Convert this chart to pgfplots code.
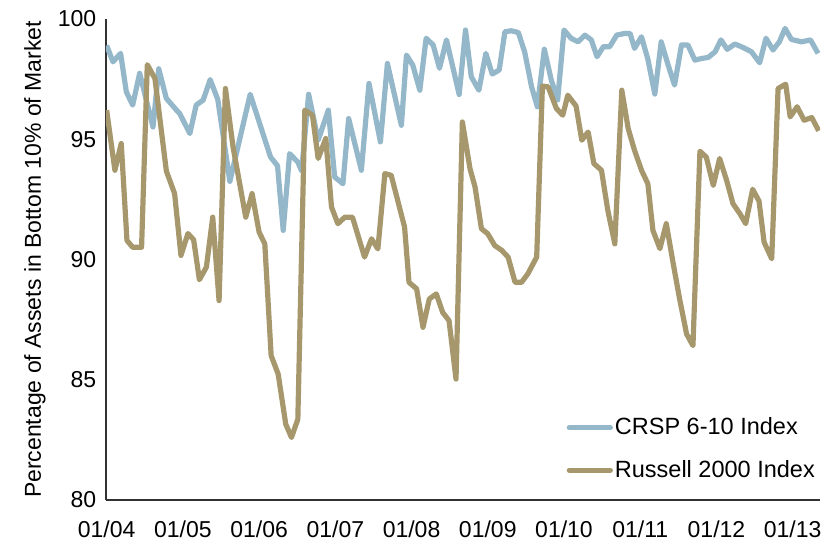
\documentclass[border=0pt]{standalone}
\usepackage{pgfplots}
\pgfplotsset{compat=1.18}
\usepackage{fontspec}
\setmainfont{Liberation Sans}
\definecolor{crsp}{RGB}{148,183,202}
\definecolor{russ}{RGB}{166,151,108}
\definecolor{axgray}{RGB}{50,50,50}
\begin{document}
\fontsize{23}{27}\selectfont
\begin{tikzpicture}
\path[use as bounding box] (-106pt,-43pt) rectangle (733pt,500pt);
\begin{axis}[
  at={(0,0)}, anchor=south west,
  scale only axis, width=714pt, height=481pt,
  xmin=-0.1, xmax=112.3, ymin=80, ymax=100,
  axis x line*=bottom, axis y line*=left,
  axis line style={axgray, line width=1.2pt},
  major tick length=0pt,
  xtick={0,12,24,36,48,60,72,84,96,108},
  xticklabels={01/04,01/05,01/06,01/07,01/08,01/09,01/10,01/11,01/12,01/13},
  ytick={80,85,90,95,100},
  /pgf/number format/assume math mode=true,
  tick label style={font=\fontsize{23}{27}\selectfont, text=black},
  xticklabel style={yshift=-13pt},
  yticklabel style={xshift=-2pt},
  ylabel={Percentage of Assets in Bottom 10\% of Market},
  ylabel style={at={(axis description cs:-0.0994,0.5)}, anchor=center, font=\fontsize{23}{27}\selectfont},
  legend style={at={(axis description cs:0.645,0.176)}, anchor=north west, draw=none, fill=none,
    font=\fontsize{23.5}{27}\selectfont, row sep=18pt, inner sep=0pt},
  legend cell align=left,
  legend image code/.code={\draw[#1, line cap=round] (0pt,0pt) -- (41pt,0pt);},
  every axis plot/.append style={line width=5.2pt, line join=round},
]
\addplot[crsp] coordinates {
(0,98.9)(1.0,98.22)(2.2,98.57)(3.1,96.97)(4.1,96.42)(5.2,97.74)(7.3,95.51)(8.2,97.93)(9.4,96.70)(11.0,96.21)(11.5,96.07)(13.1,95.24)(14.1,96.42)(15.2,96.63)(16.3,97.48)(17.5,96.65)(19.4,93.25)(22.6,96.87)(25.8,94.26)(26.9,93.9)(27.8,91.21)(28.8,94.4)(30.1,94.05)(30.7,93.68)(31.8,96.87)(33.3,94.96)(34.9,96.21)(35.9,93.43)(37.2,93.15)(38.1,95.86)(40.1,93.71)(41.3,97.32)(43.1,94.89)(44.2,98.15)(46.4,95.58)(47.2,98.5)(48.2,98.08)(49.3,97.04)(50.3,99.2)(51.4,98.92)(52.4,97.95)(53.5,99.13)(55.5,96.86)(56.5,99.54)(57.4,97.6)(58.6,97.04)(59.7,98.57)(60.7,97.71)(61.8,97.88)(62.7,99.47)(63.7,99.51)(64.8,99.44)(65.8,98.64)(66.9,97.18)(67.8,96.35)(68.9,98.74)(70.0,97.46)(71.0,96.63)(72.0,99.54)(73.1,99.2)(74.2,99.05)(75.3,99.33)(76.3,99.13)(77.2,98.43)(78.2,98.85)(79.2,98.85)(80.3,99.33)(81.6,99.40)(82.4,99.4)(83.1,98.78)(84.2,99.26)(85.2,98.33)(86.3,96.88)(87.3,99.05)(88.4,98.08)(89.4,97.25)(90.5,98.92)(91.5,98.92)(92.6,98.29)(93.7,98.36)(94.7,98.40)(95.8,98.64)(96.7,99.13)(97.7,98.74)(98.9,98.96)(99.9,98.85)(101.5,98.64)(102.8,98.18)(103.8,99.2)(104.9,98.71)(105.9,99.05)(106.8,99.61)(107.8,99.15)(109.4,99.05)(110.8,99.13)(112.0,98.57)
};
\addlegendentry{CRSP 6-10 Index}
\addplot[russ] coordinates {
(0,96.21)(1.3,93.71)(2.3,94.82)(3.2,90.79)(4.1,90.51)(5.5,90.51)(6.4,98.1)(7.6,97.53)(9.4,93.68)(10.7,92.74)(11.7,90.17)(12.8,91.08)(13.7,90.82)(14.6,89.16)(15.7,89.68)(16.7,91.76)(17.7,88.29)(18.7,97.11)(19.9,94.68)(21.9,91.76)(22.9,92.74)(24.0,91.14)(24.9,90.65)(25.9,86.0)(27.0,85.24)(28.2,83.15)(29.1,82.60)(30.1,83.36)(31.2,96.21)(32.4,96.0)(33.3,94.2)(34.5,95.03)(35.4,92.18)(36.4,91.49)(37.5,91.76)(38.7,91.76)(40.6,90.10)(41.7,90.86)(42.7,90.44)(43.8,93.57)(44.8,93.5)(46.9,91.35)(47.6,89.05)(48.8,88.78)(49.8,87.18)(50.8,88.36)(51.9,88.57)(52.9,87.80)(53.9,87.46)(55.0,85.03)(56.0,95.72)(57.2,93.78)(58.0,93.01)(59.0,91.28)(60.0,91.07)(61.1,90.58)(62.2,90.38)(63.2,90.10)(64.3,89.05)(65.3,89.05)(66.3,89.4)(67.7,90.10)(68.6,97.21)(69.5,97.18)(70.8,96.28)(71.8,96.0)(72.6,96.83)(73.9,96.38)(74.8,94.96)(75.8,95.3)(76.7,93.99)(77.9,93.71)(78.9,92.04)(80.0,90.65)(81.1,97.04)(82.1,95.45)(83.1,94.54)(84.2,93.71)(85.2,93.15)(86.0,91.21)(87.1,90.45)(88.1,91.49)(89.2,89.82)(90.2,88.36)(91.3,86.9)(92.3,86.42)(93.4,94.5)(94.4,94.26)(95.5,93.08)(96.5,94.2)(97.6,93.29)(98.6,92.32)(99.7,91.9)(100.6,91.49)(101.7,92.92)(102.7,92.43)(103.5,90.72)(104.7,90.03)(105.7,97.11)(106.9,97.29)(107.6,95.93)(108.7,96.35)(109.8,95.79)(111.0,95.9)(112.1,95.35)
};
\addlegendentry{Russell 2000 Index}
\end{axis}
\end{tikzpicture}
\end{document}
